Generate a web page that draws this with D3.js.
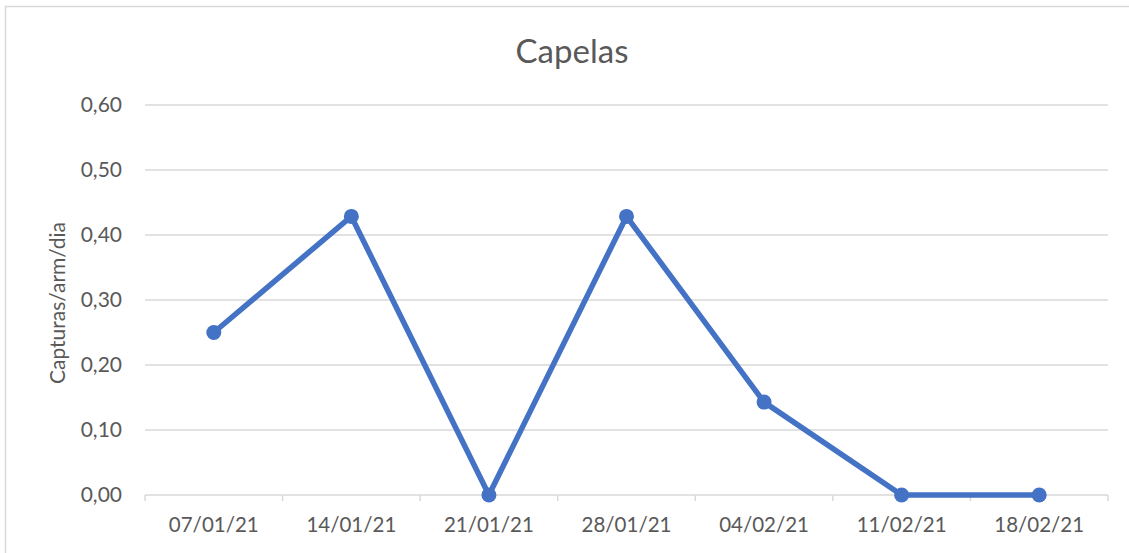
<!DOCTYPE html>
<html>
<head>
<meta charset="utf-8">
<script src="https://cdn.jsdelivr.net/npm/d3@7"></script>
<style>
  body { margin: 0; background: #fff; }
  text { font-family: Lato, "Open Sans", sans-serif; fill: #595959; }
</style>
</head>
<body>
<script>
// data
var dates  = ["07/01/21", "14/01/21", "21/01/21", "28/01/21", "04/02/21", "11/02/21", "18/02/21"];
var values = [0.25, 0.4286, 0, 0.4286, 0.1429, 0, 0];
var yTicks = [0, 0.1, 0.2, 0.3, 0.4, 0.5, 0.6];

var W = 1129, H = 553,
    margin = {top: 105, right: 21, bottom: 58, left: 145};
var width = W - margin.left - margin.right,
    height = H - margin.top - margin.bottom;

var root = d3.select("body").append("svg")
    .attr("width", W)
    .attr("height", H);

// chart frame
root.append("path")
    .attr("d", "M5.5," + H + " V6.5 H" + W)
    .style("fill", "none")
    .style("stroke", "#d9d9d9")
    .style("stroke-width", 1.5);

var svg = root.append("g")
    .attr("transform", "translate(" + margin.left + "," + margin.top + ")");

var x = d3.scaleBand().domain(dates).range([0, width]);
var y = d3.scaleLinear().domain([0, 0.6]).range([height, 0]);

// gridlines
svg.selectAll(".grid")
    .data(yTicks.slice(1))
    .enter().append("line")
    .attr("x1", 0).attr("x2", width)
    .attr("y1", function(d) { return y(d); })
    .attr("y2", function(d) { return y(d); })
    .style("stroke", "#d9d9d9")
    .style("stroke-width", 1.3);

// y axis labels
svg.selectAll(".ylab")
    .data(yTicks)
    .enter().append("text")
    .attr("x", -23)
    .attr("y", function(d) { return y(d); })
    .attr("dy", "0.35em")
    .style("text-anchor", "end")
    .style("font-size", "21px")
    .text(function(d) { return d3.format(".2f")(d).replace(".", ","); });

// x axis line and ticks
svg.append("line")
    .attr("x1", 0).attr("x2", width)
    .attr("y1", height).attr("y2", height)
    .style("stroke", "#d9d9d9")
    .style("stroke-width", 1.5);

var bounds = dates.map(function(d) { return x(d); }).concat([width]);
svg.selectAll(".xtick")
    .data(bounds)
    .enter().append("line")
    .attr("x1", function(d) { return d; })
    .attr("x2", function(d) { return d; })
    .attr("y1", height).attr("y2", height + 6)
    .style("stroke", "#d9d9d9")
    .style("stroke-width", 1.5);

svg.selectAll(".xlab")
    .data(dates)
    .enter().append("text")
    .attr("x", function(d) { return x(d) + x.bandwidth() / 2; })
    .attr("y", height + 37)
    .style("text-anchor", "middle")
    .style("font-size", "20.5px")
    .text(function(d) { return d; });

// line
var line = d3.line()
    .x(function(d, i) { return x(dates[i]) + x.bandwidth() / 2; })
    .y(function(d) { return y(d); });

svg.append("path")
    .datum(values)
    .attr("d", line)
    .style("fill", "none")
    .style("stroke", "#4472C4")
    .style("stroke-width", 5.5)
    .style("stroke-linejoin", "round");

svg.selectAll(".pt")
    .data(values)
    .enter().append("circle")
    .attr("cx", function(d, i) { return x(dates[i]) + x.bandwidth() / 2; })
    .attr("cy", function(d) { return y(d); })
    .attr("r", 7.5)
    .style("fill", "#4472C4");

// titles
root.append("text")
    .attr("x", 572)
    .attr("y", 63)
    .style("text-anchor", "middle")
    .style("font-size", "33px")
    .text("Capelas");

root.append("text")
    .attr("transform", "translate(65,303) rotate(-90)")
    .style("text-anchor", "middle")
    .style("font-size", "21px")
    .text("Capturas/arm/dia");
</script>
</body>
</html>
